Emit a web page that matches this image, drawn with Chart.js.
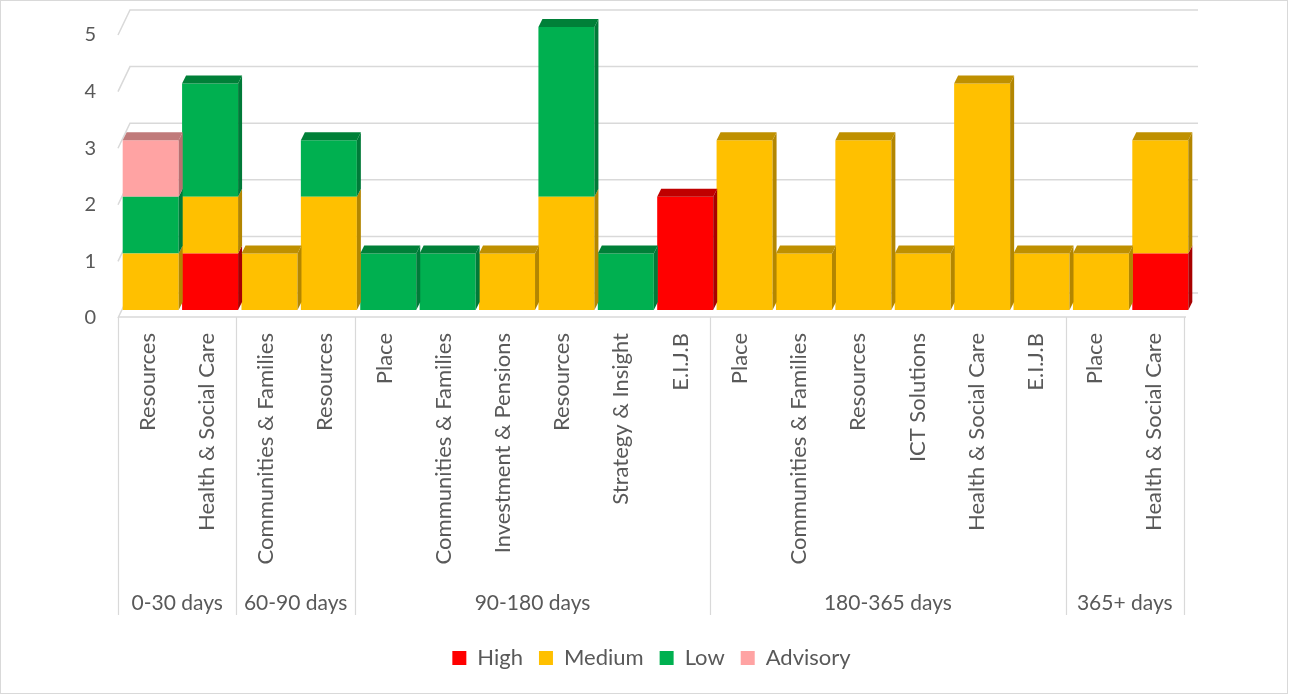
<!DOCTYPE html>
<html>
<head>
<meta charset="utf-8">
<script src="https://cdn.jsdelivr.net/npm/chart.js@4.4.1/dist/chart.umd.min.js"></script>
<style>
  html, body { margin: 0; padding: 0; background: #ffffff; }
  #wrap { width: 1289px; height: 695px; position: relative; }
</style>
</head>
<body>
<div id="wrap"><canvas id="myChart" width="1289" height="695"></canvas></div>
<script>
// departments, grouped by age of the action
const categories = [
  'Resources', 'Health & Social Care',
  'Communities & Families', 'Resources',
  'Place', 'Communities & Families', 'Investment & Pensions', 'Resources', 'Strategy & Insight', 'E.I.J.B',
  'Place', 'Communities & Families', 'Resources', 'ICT Solutions', 'Health & Social Care', 'E.I.J.B',
  'Place', 'Health & Social Care'
];
const groupLabels = ['0-30 days', '60-90 days', '90-180 days', '180-365 days', '365+ days'];
const groupSizes = [2, 2, 6, 6, 2];

const high     = [null, 1, null, null, null, null, null, null, null, 2, null, null, null, null, null, null, null, 1];
const medium   = [1, 1, 1, 2, null, null, 1, 2, null, null, 3, 1, 3, 1, 4, 1, 1, 2];
const low      = [1, 2, null, 1, 1, 1, null, 3, 1, null, null, null, null, null, null, null, null, null];
const advisory = [1, null, null, null, null, null, null, null, null, null, null, null, null, null, null, null, null, null];

const yTicks = [0, 1, 2, 3, 4, 5];

const FONT = 'Lato';
const TEXT = '#595959';
const GRID = '#d9d9d9';

// 3d depth of the bars and of the back wall
const BAR_DX = 4, BAR_DY = 8;
const WALL_DX = 12, WALL_DY = 25;

const depthPlugin = {
  id: 'depth',
  beforeDatasetsDraw(chart) {
    const ctx = chart.ctx;
    const area = chart.chartArea;
    const y = chart.scales.y;
    const sepLeft = area.left - 3;
    const sepRight = area.right - 6;
    ctx.save();
    ctx.strokeStyle = GRID;
    ctx.lineWidth = 1.5;
    // back wall gridlines with the slanted side wall edge
    yTicks.forEach(v => {
      const yf = y.getPixelForValue(v) + 8;
      ctx.beginPath();
      ctx.moveTo(sepLeft, yf);
      ctx.lineTo(sepLeft + WALL_DX, yf - WALL_DY);
      ctx.lineTo(area.right + 8, yf - WALL_DY);
      ctx.stroke();
    });
    // floor front edge
    const floor = y.getPixelForValue(0) + 7;
    ctx.beginPath();
    ctx.moveTo(sepLeft, floor);
    ctx.lineTo(sepRight + 2, floor);
    ctx.stroke();

    // group separators
    const step = (sepRight - sepLeft) / categories.length;
    ctx.lineWidth = 1.2;
    let k = 0;
    const bounds = [0];
    groupSizes.forEach(n => { k += n; bounds.push(k); });
    bounds.forEach(b => {
      const x = Math.round(sepLeft + b * step) + 0.5;
      ctx.beginPath();
      ctx.moveTo(x, floor);
      ctx.lineTo(x, 615);
      ctx.stroke();
    });

    // category labels, rotated
    ctx.fillStyle = TEXT;
    ctx.font = '22px ' + FONT;
    ctx.textAlign = 'right';
    ctx.textBaseline = 'middle';
    categories.forEach((c, i) => {
      const x = sepLeft + (i + 0.5) * step;
      ctx.save();
      ctx.translate(x, 333);
      ctx.rotate(-Math.PI / 2);
      ctx.fillText(c, 0, 0);
      ctx.restore();
    });

    // group labels
    ctx.textAlign = 'center';
    ctx.font = '21px ' + FONT;
    groupLabels.forEach((g, j) => {
      const cx = sepLeft + (bounds[j] + bounds[j + 1]) / 2 * step;
      ctx.fillText(g, cx, 603);
    });
    ctx.restore();
  },
  afterDatasetsDraw(chart) {
    const ctx = chart.ctx;
    const sets = chart.data.datasets;
    ctx.save();
    for (let i = 0; i < categories.length; i++) {
      let topIdx = -1;
      sets.forEach((ds, d) => { if (ds.data[i] != null) topIdx = d; });
      sets.forEach((ds, d) => {
        if (ds.data[i] == null) return;
        const el = chart.getDatasetMeta(d).data[i];
        const p = el.getProps(['x', 'y', 'base', 'width'], true);
        const left = p.x - p.width / 2, right = p.x + p.width / 2;
        const top = Math.min(p.y, p.base), bottom = Math.max(p.y, p.base);
        // right side face
        ctx.fillStyle = ds.sideColor;
        ctx.beginPath();
        ctx.moveTo(right, top);
        ctx.lineTo(right + BAR_DX, top - BAR_DY);
        ctx.lineTo(right + BAR_DX, bottom - BAR_DY);
        ctx.lineTo(right, bottom);
        ctx.closePath();
        ctx.fill();
        // lid on the top segment only
        if (d === topIdx) {
          ctx.fillStyle = ds.topColor;
          ctx.beginPath();
          ctx.moveTo(left, top);
          ctx.lineTo(left + BAR_DX, top - BAR_DY);
          ctx.lineTo(right + BAR_DX, top - BAR_DY);
          ctx.lineTo(right, top);
          ctx.closePath();
          ctx.fill();
        }
      });
    }
    ctx.restore();
  },
  afterDraw(chart) {
    const ctx = chart.ctx;
    ctx.save();
    ctx.strokeStyle = GRID;
    ctx.lineWidth = 1;
    ctx.strokeRect(0.5, 0.5, 1287, 693);
    ctx.restore();
  }
};

const ctx = document.getElementById('myChart').getContext('2d');
new Chart(ctx, {
  type: 'bar',
  data: {
    labels: categories,
    datasets: [
      { label: 'High', data: high, backgroundColor: '#ff0000', sideColor: '#a80000', topColor: '#c00000' },
      { label: 'Medium', data: medium, backgroundColor: '#ffc000', sideColor: '#b38600', topColor: '#bf9000' },
      { label: 'Low', data: low, backgroundColor: '#00b050', sideColor: '#007a38', topColor: '#008038' },
      { label: 'Advisory', data: advisory, backgroundColor: '#ffa3a3', sideColor: '#b87070', topColor: '#c07a7a' }
    ]
  },
  options: {
    responsive: false,
    animation: false,
    layout: { padding: { left: 20, right: 6, top: 27, bottom: 16 } },
    datasets: { bar: { categoryPercentage: 1, barPercentage: 0.943, borderWidth: 0 } },
    scales: {
      x: {
        stacked: true,
        grid: { display: false, drawTicks: false },
        border: { display: false },
        ticks: { display: false },
        afterFit(s) { s.height = 321; }
      },
      y: {
        stacked: true,
        min: 0,
        max: 5,
        grid: { display: false, drawTicks: false, tickLength: 0 },
        border: { display: false },
        ticks: {
          stepSize: 1,
          padding: 25,
          labelOffset: 8,
          color: TEXT,
          font: { family: FONT, size: 20 }
        },
        afterFit(s) {
          s.width = 101;
          // labels sit beside the plot, no extra room needed above it
          s.paddingTop = 0;
          s.paddingBottom = 0;
        }
      },
      // empty right axis, only keeps room on the right of the plot
      y2: {
        position: 'right',
        grid: { display: false, drawTicks: false, tickLength: 0 },
        border: { display: false },
        ticks: { display: false },
        afterFit(s) { s.width = 93; }
      }
    },
    plugins: {
      tooltip: { enabled: false },
      legend: {
        position: 'bottom',
        labels: {
          boxWidth: 14,
          boxHeight: 14,
          padding: 16,
          color: TEXT,
          font: { family: FONT, size: 22 }
        }
      }
    }
  },
  plugins: [depthPlugin]
});
</script>
</body>
</html>
